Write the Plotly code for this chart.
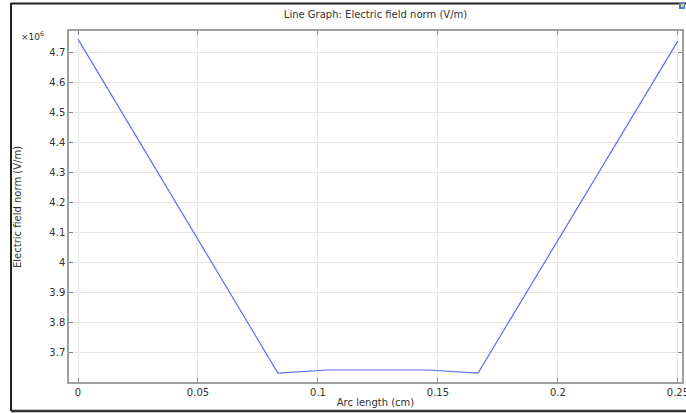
import plotly.graph_objects as go

# Data: arc length (cm) and electric field norm (x10^6 V/m)
arc_length = [0.0, 0.0833, 0.1042, 0.125, 0.1458, 0.1667, 0.25]
field_norm = [4.745, 3.631, 3.641, 3.642, 3.641, 3.631, 4.739]

x_ticks = [0, 0.05, 0.1, 0.15, 0.2, 0.25]
x_tick_labels = ["0", "0.05", "0.1", "0.15", "0.2", "0.25"]
y_ticks = [3.7, 3.8, 3.9, 4.0, 4.1, 4.2, 4.3, 4.4, 4.5, 4.6, 4.7]
y_tick_labels = ["3.7", "3.8", "3.9", "4", "4.1", "4.2", "4.3", "4.4", "4.5", "4.6", "4.7"]

W, H = 686, 413
L, R, T, B = 69, 4, 31, 31
pw = W - L - R
ph = H - T - B

def px(xp):
    return (xp - L) / pw

def py(yp):
    return (H - B - yp) / ph

font_family = "DejaVu Sans, Liberation Sans, sans-serif"
fc = "#333333"

fig = go.Figure()
fig.add_trace(go.Scatter(
    x=arc_length, y=field_norm, mode="lines",
    line=dict(color="#5b6ef2", width=1.2),
    showlegend=False, hoverinfo="skip",
))

axis_common = dict(
    showgrid=True, gridcolor="#e6e6e6", gridwidth=1,
    showline=True, linecolor="#a0a0a0", linewidth=1.5, mirror="ticks",
    ticks="inside", ticklen=4, tickcolor="#888888",
    zeroline=False, ticklabeloverflow="allow", automargin=False,
    tickfont=dict(family=font_family, size=10, color=fc),
)

fig.update_layout(
    width=W, height=H,
    margin=dict(l=L, r=R, t=T, b=B, autoexpand=False),
    paper_bgcolor="white", plot_bgcolor="white",
    title=dict(text="Line Graph: Electric field norm (V/m)", x=0.5 * (L + W - R) / W,
               xanchor="center", y=1 - 14 / H, yanchor="middle",
               font=dict(family=font_family, size=10, color=fc)),
    xaxis=dict(axis_common, range=[-0.00375, 0.2517],
               tickvals=x_ticks, ticktext=x_tick_labels,
               title=dict(text="Arc length (cm)", standoff=2,
                          font=dict(family=font_family, size=10, color=fc))),
    yaxis=dict(axis_common, range=[3.601, 4.772],
               tickvals=y_ticks, ticktext=y_tick_labels),
    annotations=[
        dict(text="×10<sup>6</sup>", x=px(32), y=py(36), xref="paper", yref="paper",
             xanchor="center", yanchor="middle", showarrow=False,
             font=dict(family=font_family, size=9, color=fc)),
        dict(text="Electric field norm (V/m)", x=px(18), y=py(207), xref="paper", yref="paper",
             xanchor="center", yanchor="middle", showarrow=False, textangle=-90,
             font=dict(family=font_family, size=10, color=fc)),
    ],
    shapes=[
        # outer window frame
        dict(type="line", xref="paper", yref="paper", x0=px(11), x1=px(11),
             y0=py(3), y1=py(411), line=dict(color="#222222", width=2)),
        dict(type="line", xref="paper", yref="paper", x0=px(11), x1=px(690),
             y0=py(3.5), y1=py(3.5), line=dict(color="#222222", width=2)),
        dict(type="line", xref="paper", yref="paper", x0=px(11), x1=px(690),
             y0=py(411), y1=py(411), line=dict(color="#333333", width=2.5)),
        # small icon in top right
        dict(type="rect", xref="paper", yref="paper", x0=px(679), x1=px(685),
             y0=py(9), y1=py(3), line=dict(width=0), fillcolor="#4a7fd0"),
        dict(type="rect", xref="paper", yref="paper", x0=px(681), x1=px(684),
             y0=py(7), y1=py(4), line=dict(width=0), fillcolor="#e8d84a"),
    ],
)

fig.write_html("out.html")
